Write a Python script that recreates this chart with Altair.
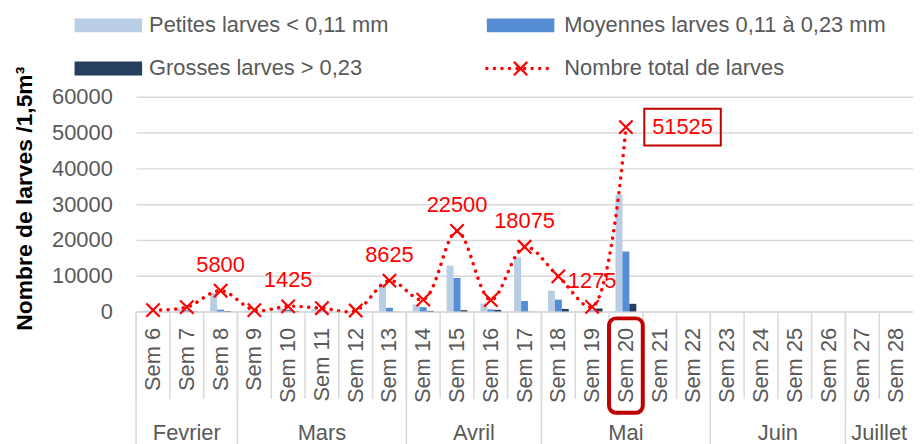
import altair as alt
import pandas as pd

# ---------------- data ----------------
weeks = ["Sem 6", "Sem 7", "Sem 8", "Sem 9", "Sem 10", "Sem 11", "Sem 12", "Sem 13",
         "Sem 14", "Sem 15", "Sem 16", "Sem 17", "Sem 18", "Sem 19", "Sem 20", "Sem 21",
         "Sem 22", "Sem 23", "Sem 24", "Sem 25", "Sem 26", "Sem 27", "Sem 28"]
petites = [250, 800, 5200, 250, 900, 600, 150, 7600, 1950, 12800, 2200, 15150, 5800, 150, 32650,
           None, None, None, None, None, None, None, None]
moyennes = [100, 350, 500, 100, 450, 300, 100, 1000, 1200, 9350, 550, 2900, 3300, 300, 16750,
            None, None, None, None, None, None, None, None]
grosses = [0, 50, 100, 0, 75, 0, 0, 25, 150, 350, 450, 25, 700, 825, 2125,
           None, None, None, None, None, None, None, None]
totals = [350, 1200, 5800, 350, 1425, 900, 250, 8625, 3300, 22500, 3200, 18075, 9800, 1275, 51525,
          None, None, None, None, None, None, None, None]
labeled_weeks = ["Sem 8", "Sem 10", "Sem 13", "Sem 15", "Sem 17", "Sem 19"]
boxed_week = "Sem 20"
months = ["Fevrier", "Mars", "Avril", "Mai", "Juin", "Juillet"]
month_lengths = [3, 5, 4, 5, 4, 2]
series = ["Petites larves < 0,11 mm", "Moyennes larves 0,11 à 0,23 mm", "Grosses larves > 0,23"]
line_name = "Nombre total de larves"
y_title = "Nombre de larves /1,5m³"

# ---------------- styles ----------------
FONT = "Liberation Sans"
FS = 22
GREY = "#595959"
LINEGREY = "#d9d9d9"
RED = "#FF0000"
DARKRED = "#C00000"
colors = ["#B9CDE5", "#558ED5", "#243F60"]
W, H = 782, 216
BOX_DX = 57

# ---------------- tables ----------------
bars_df = pd.DataFrame([
    {"week": w, "series": s, "value": v}
    for s, vals in zip(series, [petites, moyennes, grosses])
    for w, v in zip(weeks, vals) if v is not None
])
line_df = pd.DataFrame([{"week": w, "total": t} for w, t in zip(weeks, totals) if t is not None])

month_rows, starts = [], []
start = 0
for m, n in zip(months, month_lengths):
    c = start + (n - 1) / 2
    month_rows.append({"month": m, "week": weeks[int(c)], "half": c != int(c)})
    starts.append(weeks[start])
    start += n
month_df = pd.DataFrame(month_rows)
week_df = pd.DataFrame({"week": weeks})
start_df = pd.DataFrame({"week": starts})

xscale = alt.Scale(domain=weeks, paddingInner=0, paddingOuter=0)
xaxis = alt.Axis(title=None, labelAngle=-90, labelFont=FONT, labelFontSize=FS, labelColor=GREY,
                 labelPadding=16, ticks=False, tickSize=0, domainColor=LINEGREY, domainWidth=1.5,
                 grid=False, labelOverlap=False)
yscale = alt.Scale(domain=[0, 60000])
yaxis = alt.Axis(title=y_title, values=[0, 10000, 20000, 30000, 40000, 50000, 60000], format="d",
                 labelFont=FONT, labelFontSize=FS, labelColor=GREY, labelPadding=24,
                 ticks=False, tickSize=0, domain=False, gridColor=LINEGREY, gridWidth=1.5,
                 titleFont=FONT, titleFontSize=23, titleFontWeight="bold", titleColor="#000000",
                 titleAngle=-90, titleX=-105, titleY=102, titleAlign="center",
                 titleBaseline="alphabetic")


def X(**kw):
    return alt.X("week:N", scale=xscale, axis=xaxis, **kw)


bars = alt.Chart(bars_df).mark_bar().encode(
    x=X(),
    xOffset=alt.XOffset("series:N", scale=alt.Scale(domain=series, paddingInner=0, paddingOuter=0.93)),
    y=alt.Y("value:Q", scale=yscale, axis=yaxis),
    color=alt.Color("series:N", scale=alt.Scale(domain=series, range=colors), legend=None),
)

line = alt.Chart(line_df).mark_line(
    color=RED, strokeWidth=3.5, strokeDash=[0.1, 7.5], strokeCap="round", interpolate="catmull-rom"
).encode(x=X(), y=alt.Y("total:Q", scale=yscale, axis=yaxis))

XSHAPE = "M-1,-1L1,1M-1,1L1,-1"
points = alt.Chart(line_df).mark_point(
    shape=XSHAPE, size=180, color=RED, filled=False, strokeWidth=2.2, opacity=1
).encode(x=X(), y=alt.Y("total:Q", scale=yscale, axis=yaxis))

labels = alt.Chart(line_df).transform_filter(
    alt.FieldOneOfPredicate(field="week", oneOf=labeled_weeks)
).mark_text(color=RED, font=FONT, fontSize=FS, dy=-26, baseline="middle").encode(
    x=X(), y=alt.Y("total:Q", scale=yscale, axis=yaxis), text=alt.Text("total:Q", format="d"))

boxed = alt.Chart(line_df).transform_filter(alt.datum.week == boxed_week)
box_text = boxed.mark_text(color=RED, font=FONT, fontSize=FS, dx=BOX_DX, baseline="middle").encode(
    x=X(), y=alt.Y("total:Q", scale=yscale, axis=yaxis), text=alt.Text("total:Q", format="d"))
box_frame = boxed.mark_point(
    shape="M-1,-0.48H1V0.48H-1Z", size=77 * 77, color=DARKRED, filled=False, strokeWidth=2,
    opacity=1, xOffset=BOX_DX
).encode(x=X(), y=alt.Y("total:Q", scale=yscale, axis=yaxis))

highlight = alt.Chart(week_df).transform_filter(alt.datum.week == boxed_week).mark_rect(
    fillOpacity=0, stroke=DARKRED, strokeWidth=4, cornerRadius=7
).encode(x=X(), y=alt.value(223), y2=alt.value(318))

week_seps = alt.Chart(week_df).mark_rule(color=LINEGREY, strokeWidth=1.5).encode(
    x=X(bandPosition=0), y=alt.value(H), y2=alt.value(H + 88))
month_seps = alt.Chart(start_df).mark_rule(color=LINEGREY, strokeWidth=1.5).encode(
    x=X(bandPosition=0), y=alt.value(H), y2=alt.value(H + 140))

month_mid = alt.Chart(month_df).transform_filter("!datum.half").mark_text(
    font=FONT, fontSize=FS, color=GREY, baseline="alphabetic").encode(
    x=X(bandPosition=0.5), y=alt.value(H + 129), text="month:N")
month_half = alt.Chart(month_df).transform_filter("datum.half").mark_text(
    font=FONT, fontSize=FS, color=GREY, baseline="alphabetic").encode(
    x=X(bandPosition=1), y=alt.value(H + 129), text="month:N")

# ---------------- legend (drawn by hand, in the padding above the plot) ----------------
legend_layers = []
cols = [(-62, 13), (353, 431)]
rows_y = [-72, -28.5]
slots = [(0, 0), (1, 0), (0, 1)]
for name, col, (ci, ri) in zip(series, colors, slots):
    x0, tx = cols[ci]
    yc = rows_y[ri]
    one = alt.Chart(pd.DataFrame({"t": [name]}))
    legend_layers.append(one.mark_rect(color=col).encode(
        x=alt.value(x0), x2=alt.value(x0 + 68), y=alt.value(yc - 7), y2=alt.value(yc + 7)))
    legend_layers.append(one.mark_text(font=FONT, fontSize=FS, color=GREY, align="left",
                                       baseline="middle").encode(
        x=alt.value(tx), y=alt.value(yc), text="t:N"))
x0, tx = cols[1]
yc = rows_y[1]
one = alt.Chart(pd.DataFrame({"t": [line_name]}))
legend_layers.append(one.mark_rule(color=RED, strokeWidth=3.5, strokeDash=[0.1, 7.5],
                                   strokeCap="round").encode(
    x=alt.value(x0), x2=alt.value(x0 + 68), y=alt.value(yc)))
legend_layers.append(one.mark_point(shape=XSHAPE, size=180, color=RED, filled=False,
                                    strokeWidth=2.2, opacity=1).encode(
    x=alt.value(x0 + 34), y=alt.value(yc)))
legend_layers.append(one.mark_text(font=FONT, fontSize=FS, color=GREY, align="left",
                                   baseline="middle").encode(
    x=alt.value(tx), y=alt.value(yc), text="t:N"))

chart = alt.layer(
    bars, line, points, labels, box_frame, box_text, week_seps, month_seps, highlight,
    month_mid, month_half, *legend_layers
).properties(
    width=W, height=H,
    padding={"left": 129, "top": 88, "right": 0, "bottom": 132},
    autosize=alt.AutoSizeParams(type="none"),
).configure(font=FONT).configure_view(stroke=None)

chart.save("out.html", embed_options={"renderer": "svg", "actions": False})
